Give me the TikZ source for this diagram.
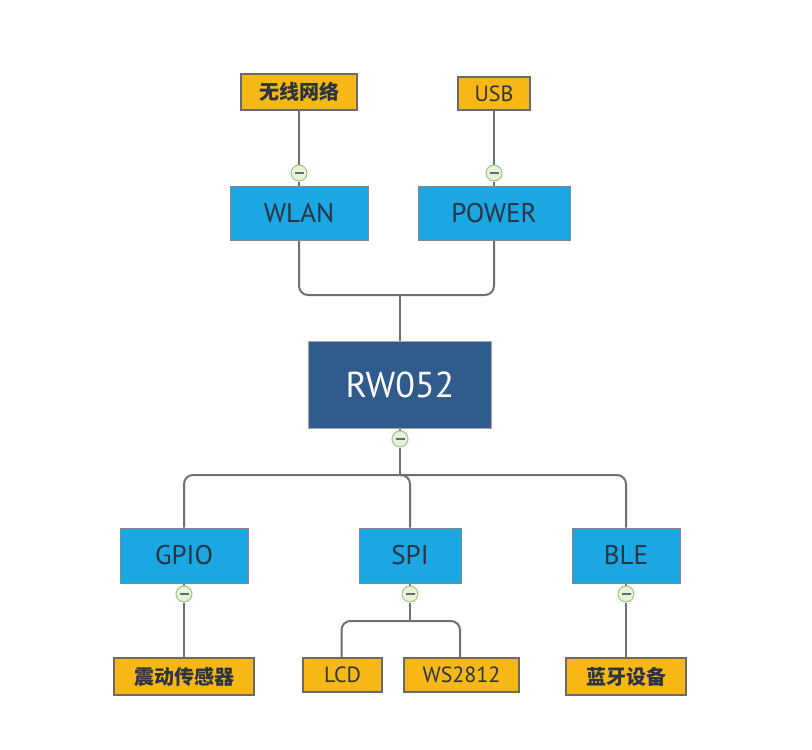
\documentclass[tikz,border=0pt]{standalone}
\usepackage{fontspec}
\setmainfont{PT Sans}
\newfontfamily\cjk{Noto Sans CJK SC}
\usetikzlibrary{backgrounds}
\definecolor{orfill}{HTML}{F7B715}
\definecolor{bluefill}{HTML}{1BA6E4}
\definecolor{darkblue}{HTML}{2F5B8D}
\definecolor{edge}{HTML}{6A6A6A}
\definecolor{linec}{HTML}{707070}
\definecolor{txt}{HTML}{2B3440}
\definecolor{cfill}{HTML}{E6F3DA}
\definecolor{cdraw}{HTML}{9CC784}
\tikzset{
  leafbox/.style={draw=edge, line width=1.3pt, fill=orfill, text=txt, inner sep=0pt, font=\fontsize{22}{24}\selectfont},
  midbox/.style={draw=edge!80, line width=1pt, fill=bluefill, text=txt, inner sep=0pt, font=\fontsize{27}{29}\selectfont},
  rootbox/.style={draw=edge!60, line width=1pt, fill=darkblue, text=white, inner sep=0pt, font=\fontsize{36}{38}\selectfont},
  cjktext/.style={font=\cjk\bfseries\fontsize{20}{22}\selectfont},
  conn/.style={draw=linec, line width=2pt, rounded corners=9pt},
  toggle/.style={circle, draw=cdraw, line width=1pt, fill=cfill, minimum size=16pt, inner sep=0pt,
    path picture={\draw[edge, line width=1.2pt] ([xshift=-4.5pt]path picture bounding box.center) -- ([xshift=4.5pt]path picture bounding box.center);}}
}
\begin{document}
\begin{tikzpicture}[x=1pt,y=-1pt]
\useasboundingbox (0,0) rectangle (812,750);
% nodes
\node[leafbox, cjktext, minimum width=116pt, minimum height=36pt] (net) at (299,92) {无线网络};
\node[leafbox, minimum width=72pt, minimum height=33pt] (usb) at (494,93.5) {USB};
\node[midbox, minimum width=138pt, minimum height=54pt] (wlan) at (299,213) {WLAN};
\node[midbox, minimum width=152pt, minimum height=54pt] (power) at (494,213) {POWER};
\node[rootbox, minimum width=183pt, minimum height=87pt] (rw) at (400,384.5) {RW052};
\node[midbox, minimum width=128pt, minimum height=55pt] (gpio) at (184,555.5) {GPIO};
\node[midbox, minimum width=102pt, minimum height=55pt] (spi) at (410,555.5) {SPI};
\node[midbox, minimum width=108pt, minimum height=55pt] (ble) at (626,555.5) {BLE};
\node[leafbox, cjktext, minimum width=140pt, minimum height=37pt] (vib) at (184,676.5) {震动传感器};
\node[leafbox, minimum width=79pt, minimum height=34pt] (lcd) at (342.5,675) {LCD};
\node[leafbox, minimum width=115pt, minimum height=34pt] (ws) at (461.5,675) {WS2812};
\node[leafbox, cjktext, minimum width=120pt, minimum height=37pt] (bt) at (626,676.5) {蓝牙设备};
% toggles
\node[toggle] (t1) at (299,173) {};
\node[toggle] (t2) at (494,173) {};
\node[toggle] (t0) at (400,439) {};
\node[toggle] (t3) at (184,594) {};
\node[toggle] (t4) at (410,594) {};
\node[toggle] (t5) at (626,594) {};
% joints
\coordinate (jt) at (400,295);
\coordinate (jb) at (400,475);
\coordinate (js) at (410,621);
% connectors
\begin{scope}[on background layer]
\draw[conn] (net.south) -- (t1.north);
\draw[conn] (t1.south) -- (wlan.north);
\draw[conn] (usb.south) -- (t2.north);
\draw[conn] (t2.south) -- (power.north);
\draw[conn] (wlan.south) |- (jt) -| (power.south);
\draw[conn] (jt) -- (rw.north);
\draw[conn] (rw.south) -- (t0.north);
\draw[conn] (t0.south) -- (jb);
\draw[conn] (gpio.north) |- (jb) -| (ble.north);
\draw[conn] (jb) -| (spi.north);
\draw[conn] (gpio.south) -- (t3.north);
\draw[conn] (t3.south) -- (vib.north);
\draw[conn] (ble.south) -- (t5.north);
\draw[conn] (t5.south) -- (bt.north);
\draw[conn] (spi.south) -- (t4.north);
\draw[conn] (t4.south) -- (js);
\draw[conn] ([xshift=-1pt]lcd.north) |- (js) -| ([xshift=-1.5pt]ws.north);
\end{scope}
\end{tikzpicture}
\end{document}
